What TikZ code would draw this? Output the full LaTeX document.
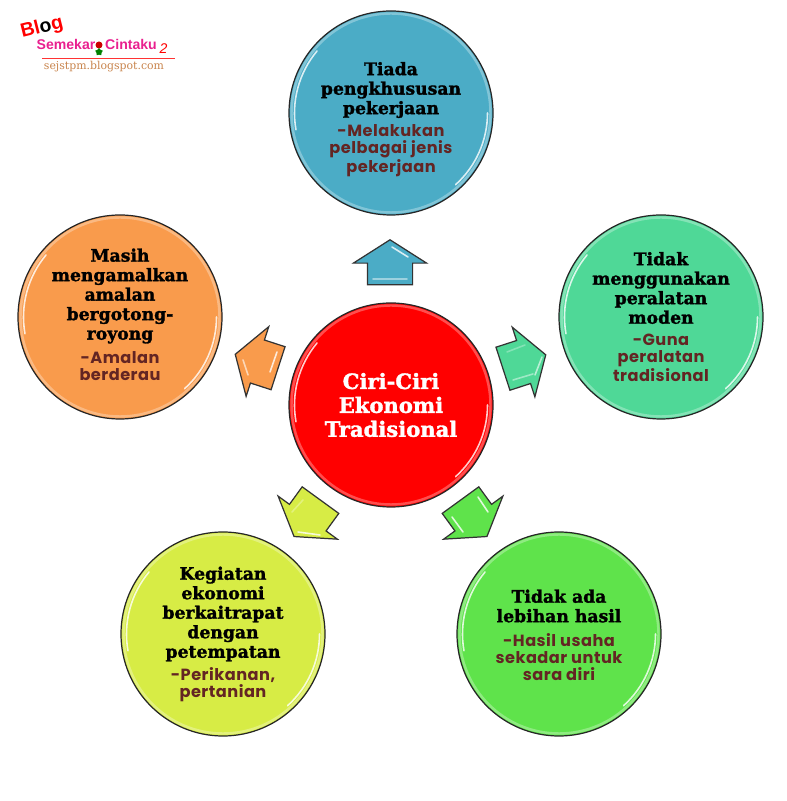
\documentclass[tikz,border=0pt]{standalone}
\usepackage{fontspec}
\usetikzlibrary{shapes.arrows,shapes.geometric}
\newfontfamily\headfont[BoldFeatures={FakeBold=1.6}]{DejaVu Serif}
\newfontfamily\bodyfont[LetterSpace=3]{Poppins}
\newfontfamily\logofont{Liberation Sans}
\definecolor{aquaB}{HTML}{4BACC6}
\definecolor{tealB}{HTML}{4FD897}
\definecolor{orangeB}{HTML}{F99B4C}
\definecolor{limeB}{HTML}{D7EC45}
\definecolor{greenB}{HTML}{5FE34B}
\definecolor{maroonT}{HTML}{632523}
\definecolor{pinkL}{HTML}{E9208F}
\definecolor{brownL}{HTML}{C8844C}
\tikzset{
  bubble/.style={draw=black!85, circle, line width=0.7pt, minimum size=4.08cm, inner sep=0pt},
  pointer/.style={draw=black!80, single arrow, line width=0.7pt, minimum height=0.9cm, minimum width=1.44cm,
    text height=0.44cm, text depth=0.44cm,
    single arrow head extend=0.28cm, single arrow tip angle=115, inner sep=0pt, outer sep=0pt},
  headtxt/.style={align=center, inner sep=0pt, font=\headfont\bfseries\fontsize{9.8}{11.1}\selectfont},
  bodytxt/.style={align=center, inner sep=0pt, text=maroonT, font=\bodyfont\bfseries\fontsize{9.2}{9.7}\selectfont},
  logotxt/.style={text=pinkL, inner sep=0pt, font=\logofont\bfseries\fontsize{8}{8}\selectfont},
  shine/.style={white, line width=0.9pt, line cap=round, opacity=0.8},
  rim/.style={white, line width=1.4pt, opacity=0.3}
}
\begin{document}
\begin{tikzpicture}
    \useasboundingbox (0,0) rectangle (15.72,16.02);

    % circles
    \node[bubble, fill=red] (C) at (7.82,7.92) {};
    \node[bubble, fill=aquaB] (B1) at (7.82,13.76) {};
    \node[bubble, fill=tealB] (B2) at (13.22,9.68) {};
    \node[bubble, fill=greenB] (B3) at (11.18,3.34) {};
    \node[bubble, fill=limeB] (B4) at (4.46,3.34) {};
    \node[bubble, fill=orangeB] (B5) at (2.40,9.68) {};

    \foreach \n in {C,B1,B2,B3,B4,B5} {
        \draw[rim] (\n.center) circle (1.99);
        \draw[shine] ([shift={(140:1.93)}]\n.center) arc (140:190:1.93);
        \draw[shine] ([shift={(-48:1.93)}]\n.center) arc (-48:0:1.93);
    }

    % arrows
    \node[pointer, fill=aquaB, rotate=90] (A1) at (7.80,10.63) {};
    \node[pointer, fill=tealB, rotate=18] (A2) at (10.35,8.74) {};
    \node[pointer, fill=greenB, rotate=-54] (A3) at (9.39,5.77) {};
    \node[pointer, fill=limeB, rotate=234] (A4) at (6.23,5.77) {};
    \node[pointer, fill=orangeB, rotate=162] (A5) at (5.27,8.75) {};

    \draw[shine] (7.84,11.08) -- (8.16,10.88);
    \draw[shine, opacity=0.45] (7.46,10.44) -- (8.14,10.44);
    \draw[shine, opacity=0.3] (10.14,8.98) -- (10.50,9.12);
    \draw[shine, opacity=0.45] (10.26,8.42) -- (10.66,8.54);
    \draw[shine, opacity=0.6] (10.84,8.88) -- (10.70,8.52);
    \draw[shine] (9.56,6.08) -- (9.76,5.78);
    \draw[shine] (9.04,5.68) -- (9.26,5.38);
    \draw[shine] (5.96,5.38) -- (6.40,5.32);
    \draw[shine, opacity=0.3] (5.84,5.78) -- (6.06,6.02);
    \draw[shine] (5.40,8.58) -- (5.54,8.98);
    \draw[shine, opacity=0.6] (4.86,8.82) -- (4.96,8.52);

    % texts
    \node[headtxt, text=white, font=\headfont\bfseries\fontsize{12}{13.6}\selectfont] (Ct) at (7.82,7.92) {Ciri-Ciri\\Ekonomi\\Tradisional};
    \node[headtxt] (H1) at (7.82,14.22) {Tiada\\pengkhususan\\pekerjaan};
    \node[bodytxt] (T1) at (7.82,13.00) {-Melakukan\\pelbagai jenis\\pekerjaan};
    \node[headtxt] (H2) at (13.22,10.26) {Tidak\\menggunakan\\peralatan\\moden};
    \node[bodytxt] (T2) at (13.22,8.86) {-Guna\\peralatan\\tradisional};
    \node[headtxt] (H3) at (11.18,3.90) {Tidak ada\\lebihan hasil};
    \node[bodytxt] (T3) at (11.18,2.88) {-Hasil usaha\\sekadar untuk\\sara diri};
    \node[headtxt] (H4) at (4.46,3.74) {Kegiatan\\ekonomi\\berkaitrapat\\dengan\\petempatan};
    \node[bodytxt] (T4) at (4.46,2.32) {-Perikanan,\\pertanian};
    \node[headtxt] (H5) at (2.40,10.10) {Masih\\mengamalkan\\amalan\\bergotong-\\royong};
    \node[bodytxt] (T5) at (2.40,8.70) {-Amalan\\berderau};

    % logo
    \node[rotate=14, text=red, inner sep=0pt, font=\logofont\bfseries\fontsize{11}{11}\selectfont] (L1) at (0.84,15.46) {Bl\textcolor{black}{o}g};
    \node[logotxt] (L2) at (1.32,15.14) {Semekar};
    \node[logotxt] (L7) at (2.62,15.14) {Cintaku};
    \node[text=red, inner sep=0pt, font=\logofont\itshape\fontsize{8}{8}\selectfont] (L3) at (3.27,15.05) {2};
    \node[circle, fill=red!80!black, inner sep=0pt, minimum size=0.14cm] (L4) at (1.98,15.12) {};
    \node[star, fill=green!50!black, inner sep=0pt, minimum size=0.16cm] (L5) at (1.98,14.98) {};
    \coordinate (La) at (0.84,14.86);
    \coordinate (Lb) at (3.50,14.86);
    \draw[red!80, line width=0.5pt] (La) -- (Lb);
    \node[text=brownL, inner sep=0pt, font=\headfont\fontsize{6.2}{6.4}\selectfont] (L6) at (2.08,14.68) {sejstpm.blogspot.com};
\end{tikzpicture}
\end{document}
